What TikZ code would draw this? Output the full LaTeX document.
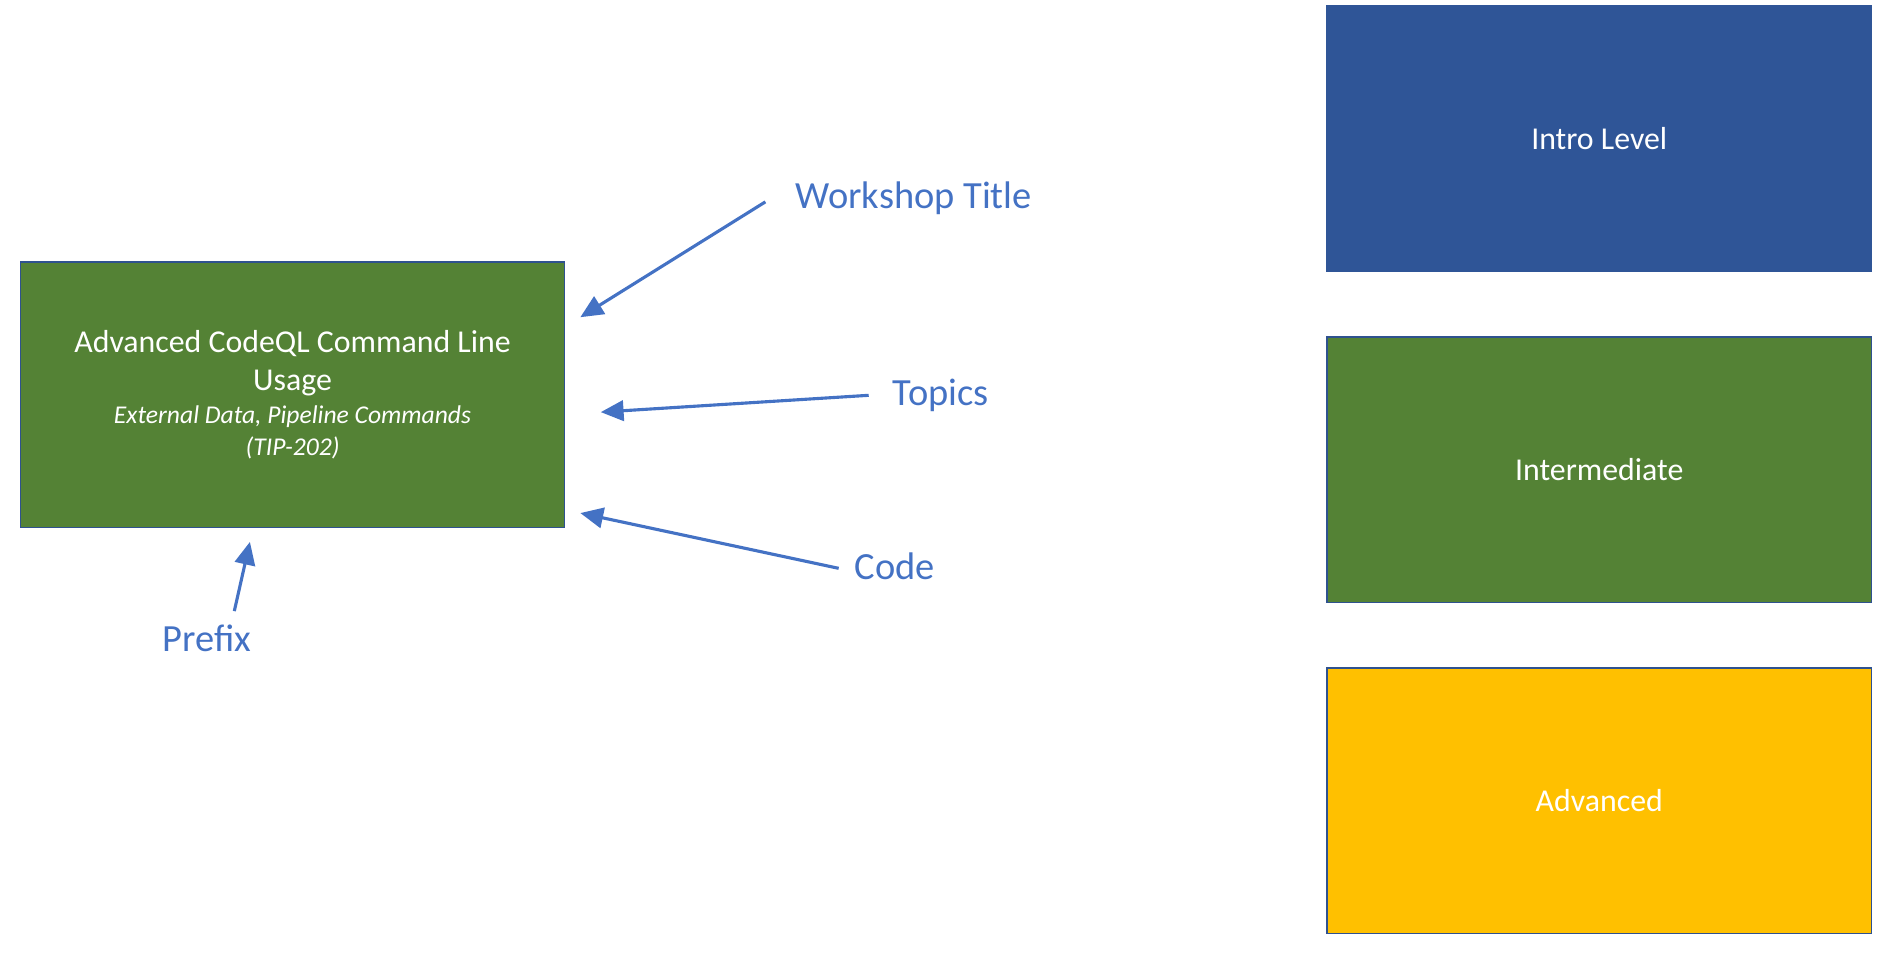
\documentclass[tikz,border=0pt]{standalone}
\usepackage{fontspec}
\setmainfont{Carlito}
\usetikzlibrary{arrows.meta,positioning}
\definecolor{lvlgreen}{HTML}{548235}
\definecolor{lvlblue}{HTML}{2F5597}
\definecolor{lvlgold}{HTML}{FFC000}
\definecolor{edgeblue}{HTML}{2F528F}
\definecolor{notecol}{HTML}{4472C4}
\tikzset{
card/.style = {draw=edgeblue, line width=1.2pt, rectangle, minimum width=453pt, minimum height=221pt, text=white, font=\fontsize{26.5}{32}\selectfont, align=center},
note/.style = {text=notecol, inner sep=0pt, font=\fontsize{32}{38}\selectfont},
tip/.style  = {coordinate},
pointer/.style = {-{Triangle[length=19pt,width=17pt]}, draw=notecol, line width=2.6pt}
}
\begin{document}
\begin{tikzpicture}[x=1pt,y=-1pt]
	\useasboundingbox (0,0) rectangle (1568,803);
	% workshop card
	\node[card, fill=lvlgreen] (work) at (243.5,328.5) {Advanced CodeQL Command Line\\Usage\\[-5pt]{\fontsize{21.3}{27}\selectfont\itshape External Data, Pipeline Commands}\\[-5pt]{\fontsize{21.3}{27}\selectfont\itshape (TIP-202)}};
	% level legend
	\node[card, fill=lvlblue, draw=lvlblue] (intro) at (1331,115.5) {Intro Level};
	\node[card, fill=lvlgreen] (inter) at (1331,391) {Intermediate};
	\node[card, fill=lvlgold] (adv) at (1331,666.5) {Advanced};
	% callouts
	\node[note, anchor=west] (title) at (662,165) {Workshop Title};
	\node[note, anchor=west] (topics) at (743,329) {Topics};
	\node[note, anchor=west] (code) at (711,471) {Code};
	\node[note] (prefix) at (172,531) {Prefix};
	\node[tip] (titletip) at (483,264) {};
	\node[tip] (topicstip) at (500,343) {};
	\node[tip] (codetip) at (483,427) {};
	\node[tip] (prefixtip) at (208,451) {};
	\draw[pointer] ([shift={(-25,3)}]title.west) -- (titletip);
	\draw[pointer] ([xshift=-20pt]topics.west) -- (topicstip);
	\draw[pointer] ([shift={(-13,2)}]code.west) -- (codetip);
	\draw[pointer] ([shift={(23,-11)}]prefix.north) -- (prefixtip);
\end{tikzpicture}
\end{document}
